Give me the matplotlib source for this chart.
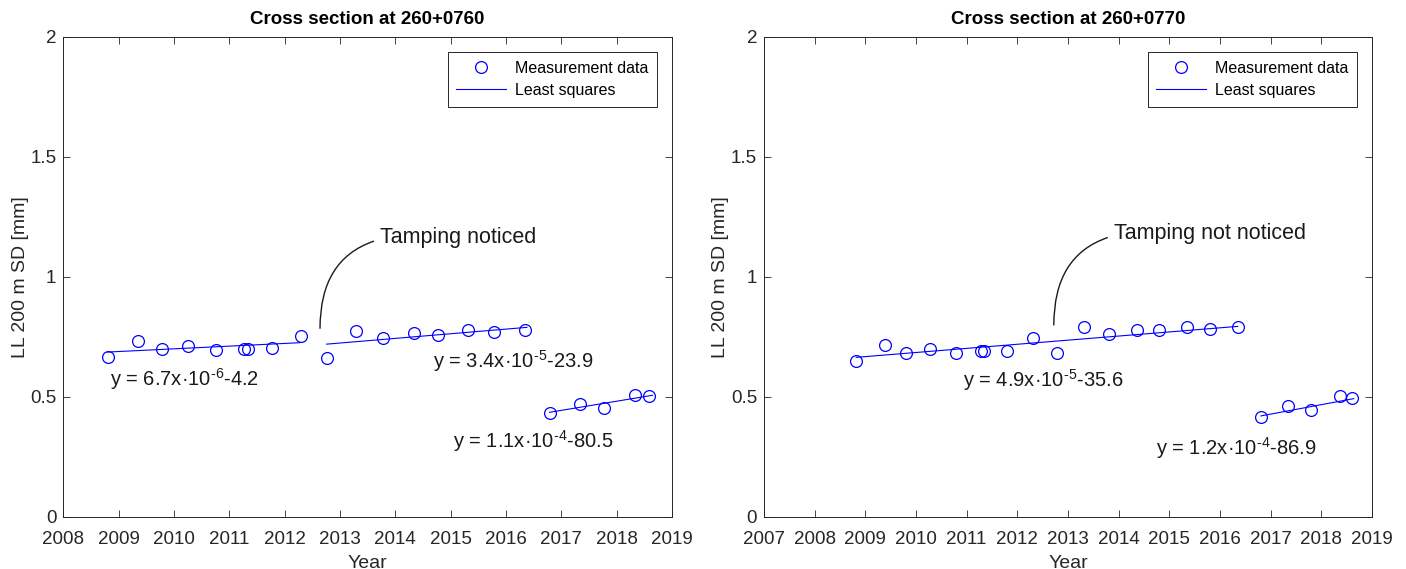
import matplotlib
matplotlib.use("Agg")
import matplotlib.pyplot as plt

plt.rcParams['font.family'] = ['Liberation Sans', 'DejaVu Sans']
plt.rcParams['mathtext.fontset'] = 'custom'
plt.rcParams['mathtext.rm'] = 'Liberation Sans'
plt.rcParams['mathtext.it'] = 'Liberation Sans:italic'
plt.rcParams['mathtext.bf'] = 'Liberation Sans:bold'

# measured values, cross section 260+0760
years_760 = [2008.80, 2009.35, 2009.79, 2010.26, 2010.76, 2011.27, 2011.34, 2011.77,
             2012.29, 2012.76, 2013.29, 2013.78, 2014.34, 2014.78, 2015.31, 2015.78,
             2016.34, 2016.79, 2017.33, 2017.78, 2018.34, 2018.59]
ll_760 = [0.664, 0.731, 0.697, 0.710, 0.694, 0.699, 0.700, 0.703,
          0.753, 0.663, 0.774, 0.743, 0.764, 0.758, 0.778, 0.771,
          0.779, 0.431, 0.471, 0.453, 0.508, 0.503]
# least squares lines as drawn (start, end)
fit_760_x = [[2008.80, 2012.27], [2012.76, 2016.38], [2016.79, 2018.65]]
fit_760_y = [[0.686, 0.725], [0.719, 0.789], [0.435, 0.506]]
eq_760 = [r'y = 6.7x·10$^{\text{-6}}$-4.2', r'y = 3.4x·10$^{\text{-5}}$-23.9',
          r'y = 1.1x·10$^{\text{-4}}$-80.5']

# measured values, cross section 260+0770
years_770 = [2008.82, 2009.38, 2009.80, 2010.28, 2010.78, 2011.29, 2011.35, 2011.79,
             2012.31, 2012.78, 2013.31, 2013.80, 2014.36, 2014.79, 2015.34, 2015.80,
             2016.35, 2016.81, 2017.35, 2017.80, 2018.37, 2018.61]
ll_770 = [0.649, 0.717, 0.683, 0.699, 0.683, 0.689, 0.689, 0.692,
          0.744, 0.681, 0.790, 0.760, 0.779, 0.776, 0.789, 0.782,
          0.790, 0.415, 0.461, 0.444, 0.504, 0.493]
fit_770_x = [[2008.82, 2016.35], [2016.81, 2018.64]]
fit_770_y = [[0.664, 0.793], [0.420, 0.492]]
eq_770 = [r'y = 4.9x·10$^{\text{-5}}$-35.6', r'y = 1.2x·10$^{\text{-4}}$-86.9']

yticks = [0, 0.5, 1, 1.5, 2]
ytick_labels = ['0', '0.5', '1', '1.5', '2']

DARK = '0.15'


def draw_panel(ax, title, years, vals, fit_x, fit_y, eqs, eq_pos,
               note, note_xy, note_text_xy, xmin):
    ax.plot(years, vals, 'o', color='blue', mfc='none', ms=8.5, mew=0.9,
            label='Measurement data')
    for i, (fx, fy) in enumerate(zip(fit_x, fit_y)):
        ax.plot(fx, fy, '-', color='blue', lw=0.8,
                label='Least squares' if i == 0 else None)
    for txt, (ex, ey) in zip(eqs, eq_pos):
        ax.text(ex, ey, txt, fontsize=14.5, color='0.1', ha='left', va='baseline')
    ax.annotate(note, xy=note_xy, xytext=note_text_xy, fontsize=15.5, color='0.1',
                ha='left', va='baseline',
                arrowprops=dict(arrowstyle='-', color='0.1', lw=1.0,
                                relpos=(0, 0.4), shrinkA=3, shrinkB=0,
                                connectionstyle='angle3,angleA=15,angleB=90'))
    ax.set_xlim(xmin, 2019)
    ax.set_ylim(0, 2)
    ax.set_xticks(range(xmin, 2020))
    ax.set_yticks(yticks)
    ax.set_yticklabels(ytick_labels)
    ax.tick_params(direction='in', top=True, right=True, length=5, width=0.6,
                   labelsize=13.5, colors=DARK)
    ax.tick_params(axis='x', pad=10)
    ax.tick_params(axis='y', pad=5)
    for s in ax.spines.values():
        s.set_color(DARK)
        s.set_linewidth(0.7)
    ax.set_title(title, fontsize=13.5, fontweight='bold', color='black', pad=9)
    ax.set_xlabel('Year', fontsize=14, color=DARK, labelpad=5)
    ax.set_ylabel('LL 200 m SD [mm]', fontsize=14, color=DARK, labelpad=1)
    leg = ax.legend(loc='upper right', fontsize=11.5, numpoints=1,
                    handlelength=3.1, handletextpad=0.55, borderpad=0.55,
                    labelspacing=0.45, borderaxespad=0.95, fancybox=False,
                    framealpha=1, edgecolor=DARK)
    leg.get_frame().set_linewidth(0.7)


fig = plt.figure(figsize=(14.06, 5.69), dpi=100)
ax1 = fig.add_axes([0.0450, 0.0919, 0.4329, 0.8436])
ax2 = fig.add_axes([0.5434, 0.0919, 0.4324, 0.8436])

draw_panel(ax1, 'Cross section at 260+0760', years_760, ll_760, fit_760_x, fit_760_y,
           eq_760, [(2008.84, 0.546), (2014.69, 0.621), (2015.05, 0.288)],
           'Tamping noticed', (2012.64, 0.785), (2013.73, 1.142), 2008)
draw_panel(ax2, 'Cross section at 260+0770', years_770, ll_770, fit_770_x, fit_770_y,
           eq_770, [(2010.93, 0.542), (2014.74, 0.257)],
           'Tamping not noticed', (2012.72, 0.799), (2013.91, 1.157), 2007)

fig.savefig('out.png', dpi=100)
